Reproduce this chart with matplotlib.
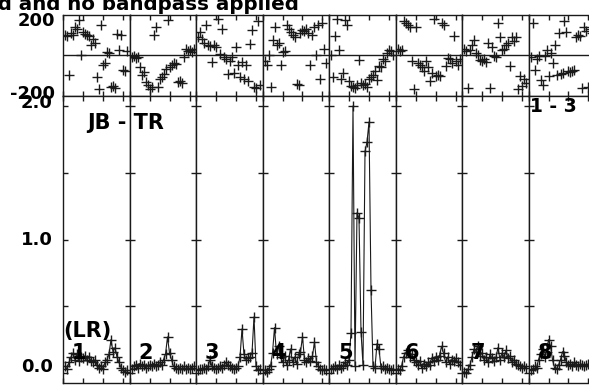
import numpy as np
import matplotlib.pyplot as plt

# channels per IF panel
chan = np.arange(1, 33)

# amplitude (Jy) for IF 1..8
amp1 = [0.05, 0.03, 0.08, 0.12, 0.15, 0.10, 0.14, 0.09, 0.12, 0.11, 0.13, 0.10, 0.12, 0.09, 0.08, 0.10,
        0.06, 0.04, 0.05, 0.03, 0.08, 0.10, 0.14, 0.25, 0.16, 0.19, 0.12, 0.08, 0.04, 0.02, 0.01, 0.02]
amp2 = [0.03, 0.05, 0.06, 0.04, 0.07, 0.05, 0.06, 0.04, 0.05, 0.06, 0.05, 0.07, 0.05, 0.06, 0.08, 0.06,
        0.10, 0.14, 0.27, 0.15, 0.10, 0.05, 0.04, 0.03, 0.04, 0.03, 0.05, 0.03, 0.04, 0.03, 0.04, 0.05]
amp3 = [0.02, 0.03, 0.03, 0.04, 0.03, 0.05, 0.10, 0.05, 0.04, 0.03, 0.04, 0.05, 0.04, 0.06, 0.08, 0.06,
        0.05, 0.04, 0.03, 0.04, 0.05, 0.12, 0.33, 0.14, 0.10, 0.11, 0.12, 0.15, 0.42, 0.05, 0.02, 0.03]
amp4 = [0.02, 0.01, 0.03, 0.05, 0.15, 0.34, 0.14, 0.20, 0.12, 0.08, 0.13, 0.06, 0.10, 0.18, 0.08, 0.12,
        0.07, 0.14, 0.16, 0.27, 0.10, 0.08, 0.11, 0.09, 0.13, 0.23, 0.08, 0.05, 0.03, 0.02, 0.03, 0.02]
amp5 = [0.03, 0.04, 0.05, 0.03, 0.06, 0.04, 0.05, 0.08, 0.06, 0.10, 0.30, 2.00, 0.05, 1.20, 1.16, 0.31,
        0.06, 1.66, 1.73, 1.88, 0.62, 0.05, 0.04, 0.22, 0.18, 0.04, 0.05, 0.03, 0.04, 0.03, 0.02, 0.03]
amp6 = [0.03, 0.02, 0.05, 0.12, 0.15, 0.17, 0.12, 0.14, 0.10, 0.08, 0.06, 0.09, 0.04, 0.07, 0.05, 0.08,
        0.06, 0.11, 0.09, 0.12, 0.10, 0.13, 0.20, 0.15, 0.08, 0.12, 0.07, 0.10, 0.09, 0.11, 0.08, 0.06]
amp7 = [0.01, 0.00, 0.03, 0.06, 0.12, 0.18, 0.16, 0.20, 0.13, 0.15, 0.10, 0.12, 0.08, 0.14, 0.11, 0.09,
        0.12, 0.19, 0.10, 0.15, 0.12, 0.17, 0.11, 0.13, 0.08, 0.10, 0.07, 0.06, 0.05, 0.04, 0.05, 0.04]
amp8 = [0.02, 0.03, 0.05, 0.04, 0.10, 0.14, 0.18, 0.12, 0.16, 0.25, 0.20, 0.10, 0.04, 0.03, 0.06, 0.10,
        0.16, 0.13, 0.08, 0.06, 0.07, 0.05, 0.08, 0.06, 0.05, 0.07, 0.06, 0.05, 0.06, 0.07, 0.05, 0.06]

# phase (degrees) for IF 1..8
phs1 = [100, 95, -100, 110, 100, 140, 130, 175, 0, 115, 105, 100, 95, 50, 80, 60,
        -110, -170, 150, -50, -40, 15, 10, -160, -155, -165, 105, 25, 100, -75, -80, 20]
phs2 = [-10, -5, -15, -10, -60, -100, -85, -135, -150, -170, -160, 100, 140, -160, -120, -110,
        -95, -70, 175, -60, -50, -40, -45, -135, -130, -140, -10, 30, 20, 25, 15, 30]
phs3 = [90, 115, 80, 60, 150, 50, 45, -35, 50, 40, 180, 5, 130, -10, -20, -95,
        -30, -10, -90, 40, -50, -110, -35, -120, -50, -130, 55, 125, -160, -165, 170, -150]
phs4 = [-30, -50, 0, -160, 75, 140, 50, 60, -50, 15, 20, 150, 130, 115, 100, 90,
        -145, -150, 110, 125, 120, 130, 110, -50, 100, 140, 0, 150, -120, 160, 30, -40]
phs5 = [0, -110, 95, 180, 25, -120, -90, 175, 150, -130, -155, -160, -165, -150, -25, -140,
        -150, -145, -160, -120, -110, -100, -80, -125, -55, -60, -20, -30, 10, 25, 20, 0]
phs6 = [30, 20, 25, 170, 160, 150, 140, -30, -170, 140, -40, -50, -60, -80, -30, -60,
        -130, -90, 180, -105, -100, -105, 160, 150, -55, -15, -20, -40, 95, -30, -50, -20]
phs7 = [30, 20, -165, 25, 50, 75, 10, 0, -25, -30, -20, -35, 60, -165, 40, -5,
        -10, 160, 90, 25, 30, 50, 60, -55, 90, 70, 90, -170, -105, -155, -120, -140]
phs8 = [-10, 160, -75, -20, -5, -125, -150, -5, 25, -105, 10, -40, 50, -100, 110, -95,
        -90, 170, 115, -80, -85, -80, -75, 90, 100, 95, -165, 140, 120, -160, 130, 110]

amps = [amp1, amp2, amp3, amp4, amp5, amp6, amp7, amp8]
phss = [phs1, phs2, phs3, phs4, phs5, phs6, phs7, phs8]
if_labels = ['1', '2', '3', '4', '5', '6', '7', '8']
baseline = 'JB - TR'
stokes = '(LR)'
src_label = '1 - 3'
title = 'Calibration applied and no bandpass applied'

W, H = 589, 386
fig = plt.figure(figsize=(W / 100, H / 100), dpi=100)
plt.rcParams['font.family'] = 'DejaVu Sans'
plt.rcParams['font.weight'] = 'bold'


def fpos(x, y):
    return x / W, 1 - y / H


col = '#1a1a1a'
pw = 66.5
for i in range(8):
    x0 = 63 + i * pw
    axp = fig.add_axes([x0 / W, (H - 96) / H, pw / W, 81 / H])
    axa = fig.add_axes([x0 / W, (H - 383) / H, pw / W, 287 / H])

    axp.plot(chan, phss[i], ls='None', marker='+', ms=7, mew=1, color=col)
    axp.axhline(0, color=col, lw=1)
    axp.set_ylim(-203, 200)

    axa.plot(chan, amps[i], color=col, lw=0.8, marker='+', ms=7, mew=1)
    axa.set_ylim(-0.075, 2.075)
    axa.set_yticks([0, 0.5, 1.0, 1.5, 2.0])
    axa.text(9 / pw, 0.105, if_labels[i], transform=axa.transAxes, fontsize=15,
             fontweight='bold', ha='left', va='center')

    for ax in (axp, axa):
        ax.set_xlim(0, 33.25)
        ax.set_xticks([0, 10, 20, 30])
        ax.tick_params(direction='in', top=True, bottom=True, left=True, right=True,
                       length=3.5, width=1, color=col, labelleft=False, labelbottom=False)
        for s in ax.spines.values():
            s.set_linewidth(1)
            s.set_color(col)
    axp.set_yticks([])

# y labels
fig.text(*fpos(55, 21), '200', ha='right', va='center', fontsize=13, fontweight='bold')
fig.text(*fpos(55, 94), '-200', ha='right', va='center', fontsize=13, fontweight='bold')
fig.text(*fpos(53, 103), '2.0', ha='right', va='center', fontsize=13, fontweight='bold')
fig.text(*fpos(53, 240), '1.0', ha='right', va='center', fontsize=13, fontweight='bold')
fig.text(*fpos(53, 367), '0.0', ha='right', va='center', fontsize=13, fontweight='bold')

# annotations
fig.text(*fpos(87, 123), baseline, ha='left', va='center', fontsize=15, fontweight='bold')
fig.text(*fpos(530, 107), src_label, ha='left', va='center', fontsize=13.5, fontweight='bold')
fig.text(*fpos(63, 331), stokes, ha='left', va='center', fontsize=15, fontweight='bold')
fig.text(*fpos(299, 10.5), title, ha='right', va='baseline', fontsize=14.3, fontweight='bold')

fig.savefig('out.png', dpi=100)
